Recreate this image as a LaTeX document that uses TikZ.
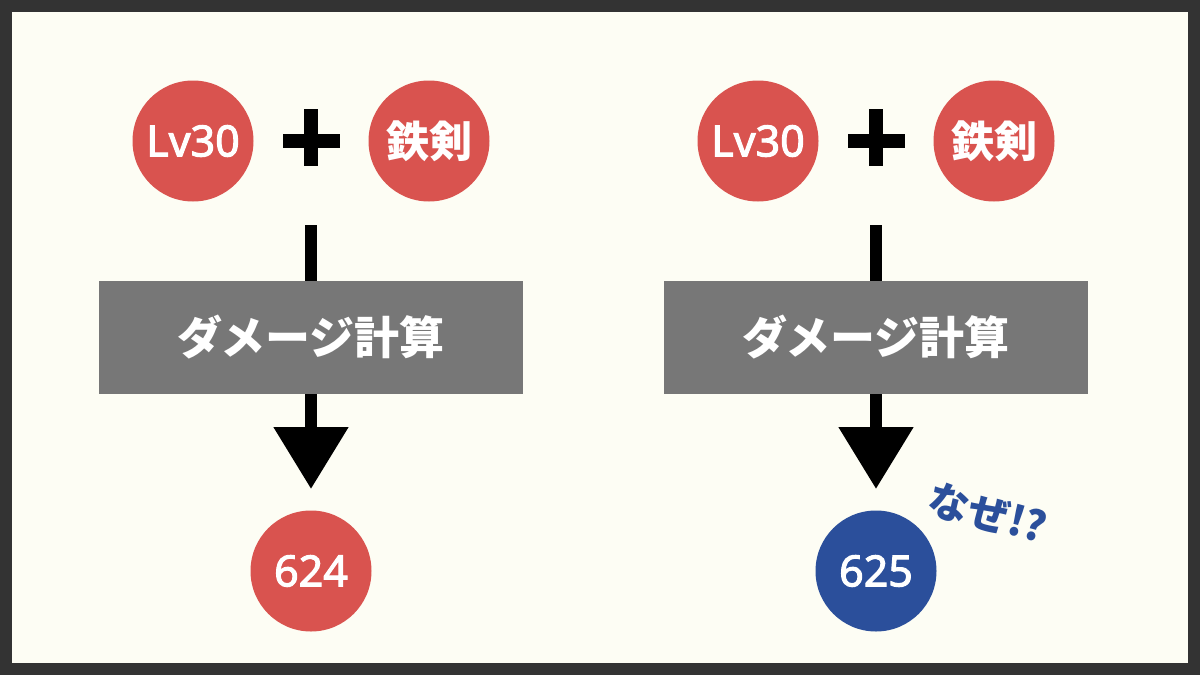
\documentclass[tikz,border=0pt]{standalone}
\usepackage{fontspec}
\setmainfont{Noto Sans}
\newfontfamily\latinb{Noto Sans}[FakeBold=2.4]
\newfontfamily\jp{Noto Sans CJK JP}
\usetikzlibrary{arrows.meta}
\definecolor{frame}{HTML}{333333}
\definecolor{paper}{HTML}{FDFDF4}
\definecolor{redc}{HTML}{D9534F}
\definecolor{bluec}{HTML}{2B4F9B}
\definecolor{boxc}{HTML}{777777}
\tikzset{
  ball/.style={circle, fill=#1, minimum size=121pt, inner sep=0pt, text=white, font=\latinb\fontsize{43}{48}\selectfont},
  jpball/.style={ball=#1, font=\jp\fontsize{43}{48}\selectfont\bfseries},
  calcbox/.style={rectangle, fill=boxc, minimum width=424pt, minimum height=113pt, inner sep=0pt, text=white, font=\jp\fontsize{45}{48}\selectfont\bfseries},
  stem/.style={line width=12pt, black},
  bigarrow/.style={line width=12pt, black, -{Triangle[width=72pt,length=62pt]}}
}
\begin{document}
\begin{tikzpicture}[x=1pt,y=-1pt]
\useasboundingbox (0,0) rectangle (1200,675);
\fill[frame] (0,0) rectangle (1200,675);
\fill[paper] (12,12) rectangle (1188,663);
\foreach \cx/\res/\col/\nm in {311/624/redc/L,876/625/bluec/R}{
  \node[ball=redc] (lv\nm) at (\cx-118,141) {Lv30};
  \node[jpball=redc] (sw\nm) at (\cx+118,141) {鉄剣};
  \fill[black] (\cx-28.5,134) rectangle (\cx+28.5,148);
  \fill[black] (\cx-7,109) rectangle (\cx+7,166);
  \node[calcbox] (calc\nm) at (\cx,337.5) {ダメージ計算};
  \coordinate (top\nm) at (\cx,225);
  \coordinate (tip\nm) at (\cx,489);
  \draw[stem] (top\nm) -- (calc\nm.north);
  \draw[bigarrow] (calc\nm.south) -- (tip\nm);
  \node[ball=\col] (res\nm) at (\cx,571) {\res};
}
\node[text=bluec, font=\jp\fontsize{41}{44}\selectfont\bfseries, rotate=-15] (naze) at (988,513) {なぜ!?};
\end{tikzpicture}
\end{document}
